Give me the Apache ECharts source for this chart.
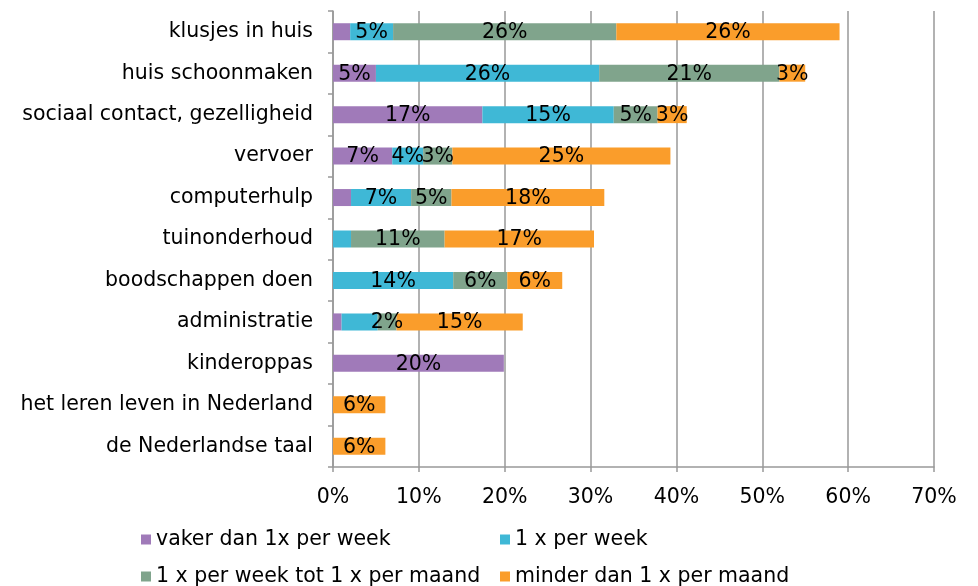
<!DOCTYPE html>
<html>
<head>
<meta charset="utf-8">
<script src="https://cdn.jsdelivr.net/npm/echarts@6/dist/echarts.min.js"></script>
<style>
  html, body { margin: 0; padding: 0; background: #fff; }
  #chart { width: 978px; height: 586px; }
</style>
</head>
<body>
<div id="chart"></div>
<script>
const categories = ['klusjes in huis', 'huis schoonmaken', 'sociaal contact, gezelligheid', 'vervoer',
  'computerhulp', 'tuinonderhoud', 'boodschappen doen', 'administratie', 'kinderoppas',
  'het leren leven in Nederland', 'de Nederlandse taal']
const seriesNames = ['vaker dan 1x per week', '1 x per week', '1 x per week tot 1 x per maand', 'minder dan 1 x per maand']
// percentages per series, same order as categories
const vaker = [2, 5, 17.4, 6.9, 2.1, 0, 0, 1, 19.9, 0, 0]
const perWeek = [5, 26, 15.3, 3.6, 7, 2.1, 14, 4.2, 0, 0, 0]
const weekMaand = [26, 21, 5.1, 3.4, 4.7, 10.9, 6.3, 2.2, 0, 0, 0]
const minder = [26, 3, 3.4, 25.4, 17.8, 17.4, 6.4, 14.7, 0, 6.1, 6.1]
// labels that the original leaves out: [series index, category index]
const hiddenLabels = [[0, 0], [0, 4], [1, 5], [0, 7], [1, 7]]
const xTicks = [0, 10, 20, 30, 40, 50, 60, 70]

const colors = ['#a07ab9', '#3fb8d6', '#80a48c', '#fa9d2b']
const values = [vaker, perWeek, weekMaand, minder]
const font = 'DejaVu Sans'
const fs = 20.5

const chart = echarts.init(document.getElementById('chart'))

const series = values.map((vals, s) => ({
  name: seriesNames[s],
  type: 'bar',
  stack: 'total',
  barWidth: 17,
  itemStyle: { color: colors[s] },
  label: {
    show: true,
    position: 'inside',
    offset: [0, 1],
    color: '#000',
    fontFamily: font,
    fontSize: fs,
    formatter: p => {
      if (!p.value) return ''
      if (hiddenLabels.some(h => h[0] === s && h[1] === p.dataIndex)) return ''
      return Math.round(p.value) + '%'
    }
  },
  data: vals
}))

const legendBase = {
  orient: 'vertical',
  top: 529,
  padding: 0,
  itemWidth: 10, itemHeight: 10, itemGap: 16,
  icon: 'rect',
  textStyle: { color: '#000', fontFamily: font, fontSize: fs, lineHeight: 21 }
}

chart.setOption({
  animation: false,
  color: colors,
  grid: { left: 333, right: 44, top: 11, bottom: 119 },
  xAxis: {
    type: 'value',
    min: xTicks[0],
    max: xTicks[xTicks.length - 1],
    interval: 10,
    axisLine: { show: true, lineStyle: { color: '#999', width: 1.5 } },
    axisTick: { show: true, length: 5, lineStyle: { color: '#999', width: 1.5 } },
    splitLine: { show: true, lineStyle: { color: '#999', width: 1.5 } },
    axisLabel: {
      color: '#000', fontFamily: font, fontSize: fs, margin: 20,
      formatter: v => v + '%'
    }
  },
  yAxis: {
    type: 'category',
    inverse: true,
    data: categories,
    axisLine: { show: true, lineStyle: { color: '#999', width: 1.5 } },
    axisTick: { show: true, length: 5, lineStyle: { color: '#999', width: 1.5 } },
    axisLabel: { color: '#000', fontFamily: font, fontSize: fs, margin: 20 }
  },
  legend: [
    Object.assign({ data: [seriesNames[0], seriesNames[2]], left: 141, height: 59 }, legendBase),
    Object.assign({ data: [seriesNames[1], seriesNames[3]], left: 500, height: 59 }, legendBase)
  ],
  series: series
})
</script>
</body>
</html>
